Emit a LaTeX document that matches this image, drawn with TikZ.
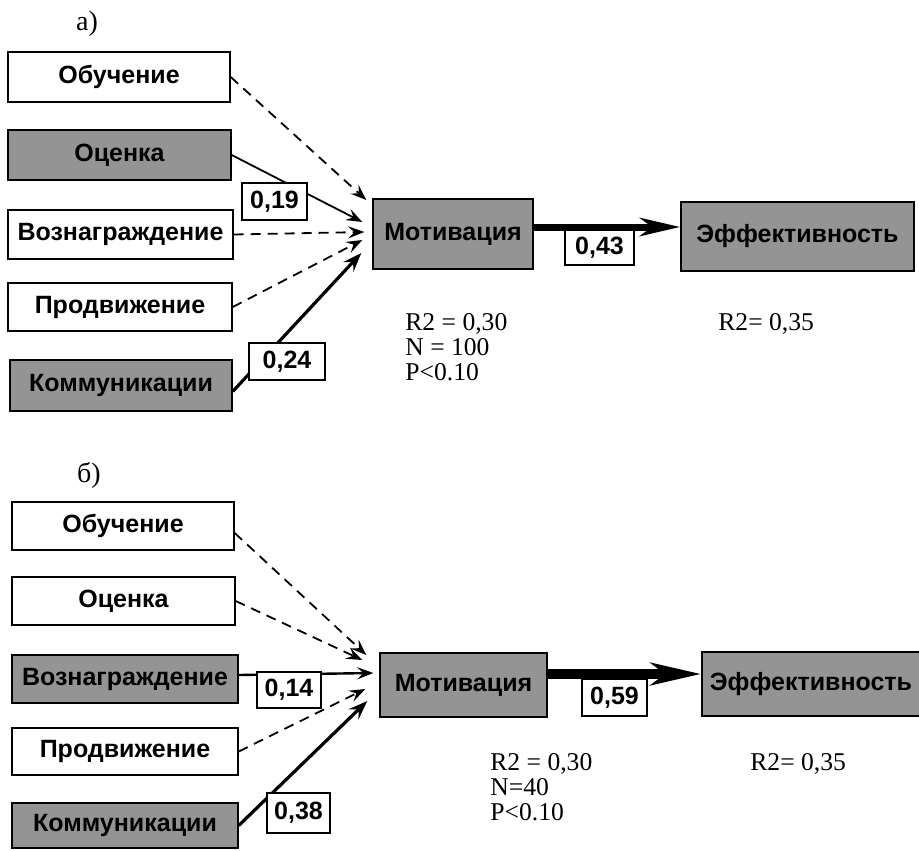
\documentclass[tikz,border=0pt]{standalone}
\usepackage{fontspec}
\setmainfont{Liberation Serif}
\newfontfamily\sansb{Liberation Sans}
\usetikzlibrary{arrows.meta,calc}
\begin{document}
\begin{tikzpicture}[x=0.5pt,y=-0.5pt,
  sz/.style 2 args={minimum width=#1*0.5pt, minimum height=#2*0.5pt},
  bx/.style={draw, line width=0.7pt, inner sep=0pt, font=\sansb\bfseries\fontsize{12.5}{14}\selectfont},
  wbox/.style={bx, fill=white},
  gbox/.style={bx, fill=black!42},
  lbl/.style={draw, fill=white, line width=0.7pt, inner sep=0pt, font=\sansb\bfseries\fontsize{12.5}{14}\selectfont},
  stat/.style={anchor=base west, inner sep=0pt, font=\fontsize{12.8}{14}\selectfont},
  ttl/.style={inner sep=0pt, font=\fontsize{14}{16}\selectfont},
  arr/.style={-{Stealth[length=8pt,width=6pt,inset=3pt]}},
  dsh/.style={arr, dash pattern=on 5pt off 3.5pt, line width=0.9pt},
  sol/.style={arr, line width=0.9pt},
  thk/.style={-{Stealth[length=9.5pt,width=7pt,inset=3.5pt]}, line width=1.6pt},
  biga/.style={-{Stealth[length=20pt,width=9pt,inset=6pt]}, line width=3.5pt},
  bigb/.style={-{Stealth[length=25pt,width=11pt,inset=7pt]}, line width=5pt}
]
\useasboundingbox (0,0) rectangle (919,850);

% ---------- panel a ----------
\node[ttl] (ta) at (87,24) {а)};
\node[wbox, sz={222}{50}] (oba) at (119,77) {Обучение};
\node[gbox, sz={223}{50}] (oca) at (119.5,155) {Оценка};
\node[wbox, sz={225}{49}] (voa) at (120.5,234.5) {Вознаграждение};
\node[wbox, sz={224}{48}] (pra) at (120,307) {Продвижение};
\node[gbox, sz={222}{51}] (koa) at (121,385.5) {Коммуникации};
\node[gbox, sz={160}{70}] (mota) at (453,234) {Мотивация};
\node[gbox, sz={233}{69}] (effa) at (797.5,236.5) {Эффективность};

\draw[dsh] (oba.east) -- ($(mota.west)+(-6,-34)$);
\draw[sol] (oca.east) -- ($(mota.west)+(-10,-12)$);
\draw[dsh] (voa.east) -- ($(mota.west)+(-8,-2)$);
\draw[dsh] (pra.east) -- ($(mota.west)+(-10,6)$);
\draw[thk] ($(koa.east)+(0,6)$) -- ($(mota.west)+(-11,19)$);
\coordinate (ma) at ($(mota.east)+(0,-7)$);
\draw[biga] (ma) -- (ma -| effa.west);

\node[lbl, sz={65}{37}] (l19) at (274.5,201.5) {0,19};
\node[lbl, sz={76}{37}] (l24) at (287,361.5) {0,24};
\node[lbl, sz={69}{35}] (l43) at (599.5,247.5) {0,43};

\node[stat] (sa1) at (405,330) {R2 = 0,30};
\node[stat] (sa2) at (405,355) {N = 100};
\node[stat] (sa3) at (405,380) {P<0.10};
\node[stat] (sa4) at (718,330) {R2= 0,35};

% ---------- panel b ----------
\node[ttl] (tb) at (89,475) {б)};
\node[wbox, sz={222}{48}] (obb) at (123,526) {Обучение};
\node[wbox, sz={223}{48}] (ocb) at (123.5,601) {Оценка};
\node[gbox, sz={226}{48}] (vob) at (125,679) {Вознаграждение};
\node[wbox, sz={226}{47}] (prb) at (125,751.5) {Продвижение};
\node[gbox, sz={226}{45}] (kob) at (125,825.5) {Коммуникации};
\node[gbox, sz={167}{64}] (motb) at (463.5,685) {Мотивация};
\node[gbox, sz={218}{64}] (effb) at (811,684) {Эффективность};

\draw[dsh] ($(obb.east)+(0,7)$) -- ($(motb.west)+(-13,-30)$);
\draw[dsh] (ocb.east) -- ($(motb.west)+(-17,-25)$);
\draw[sol, line width=1.2pt] ($(vob.east)+(0,-4)$) -- ($(motb.west)+(-6,-12)$);
\draw[dsh] (prb.east) -- ($(motb.west)+(-14,4)$);
\draw[thk] (kob.east) -- ($(motb.west)+(-12,16)$);
\coordinate (mb) at ($(motb.east)+(0,-11)$);
\draw[bigb] (mb) -- (mb -| effb.west);

\node[lbl, sz={64}{36}] (l14) at (289,690) {0,14};
\node[lbl, sz={63}{40}] (l38) at (298.5,813) {0,38};
\node[lbl, sz={65}{37}] (l59) at (614.5,697.5) {0,59};

\node[stat] (sb1) at (490,770) {R2 = 0,30};
\node[stat] (sb2) at (490,795) {N=40};
\node[stat] (sb3) at (490,820) {P<0.10};
\node[stat] (sb4) at (750,770) {R2= 0,35};
\end{tikzpicture}
\end{document}
